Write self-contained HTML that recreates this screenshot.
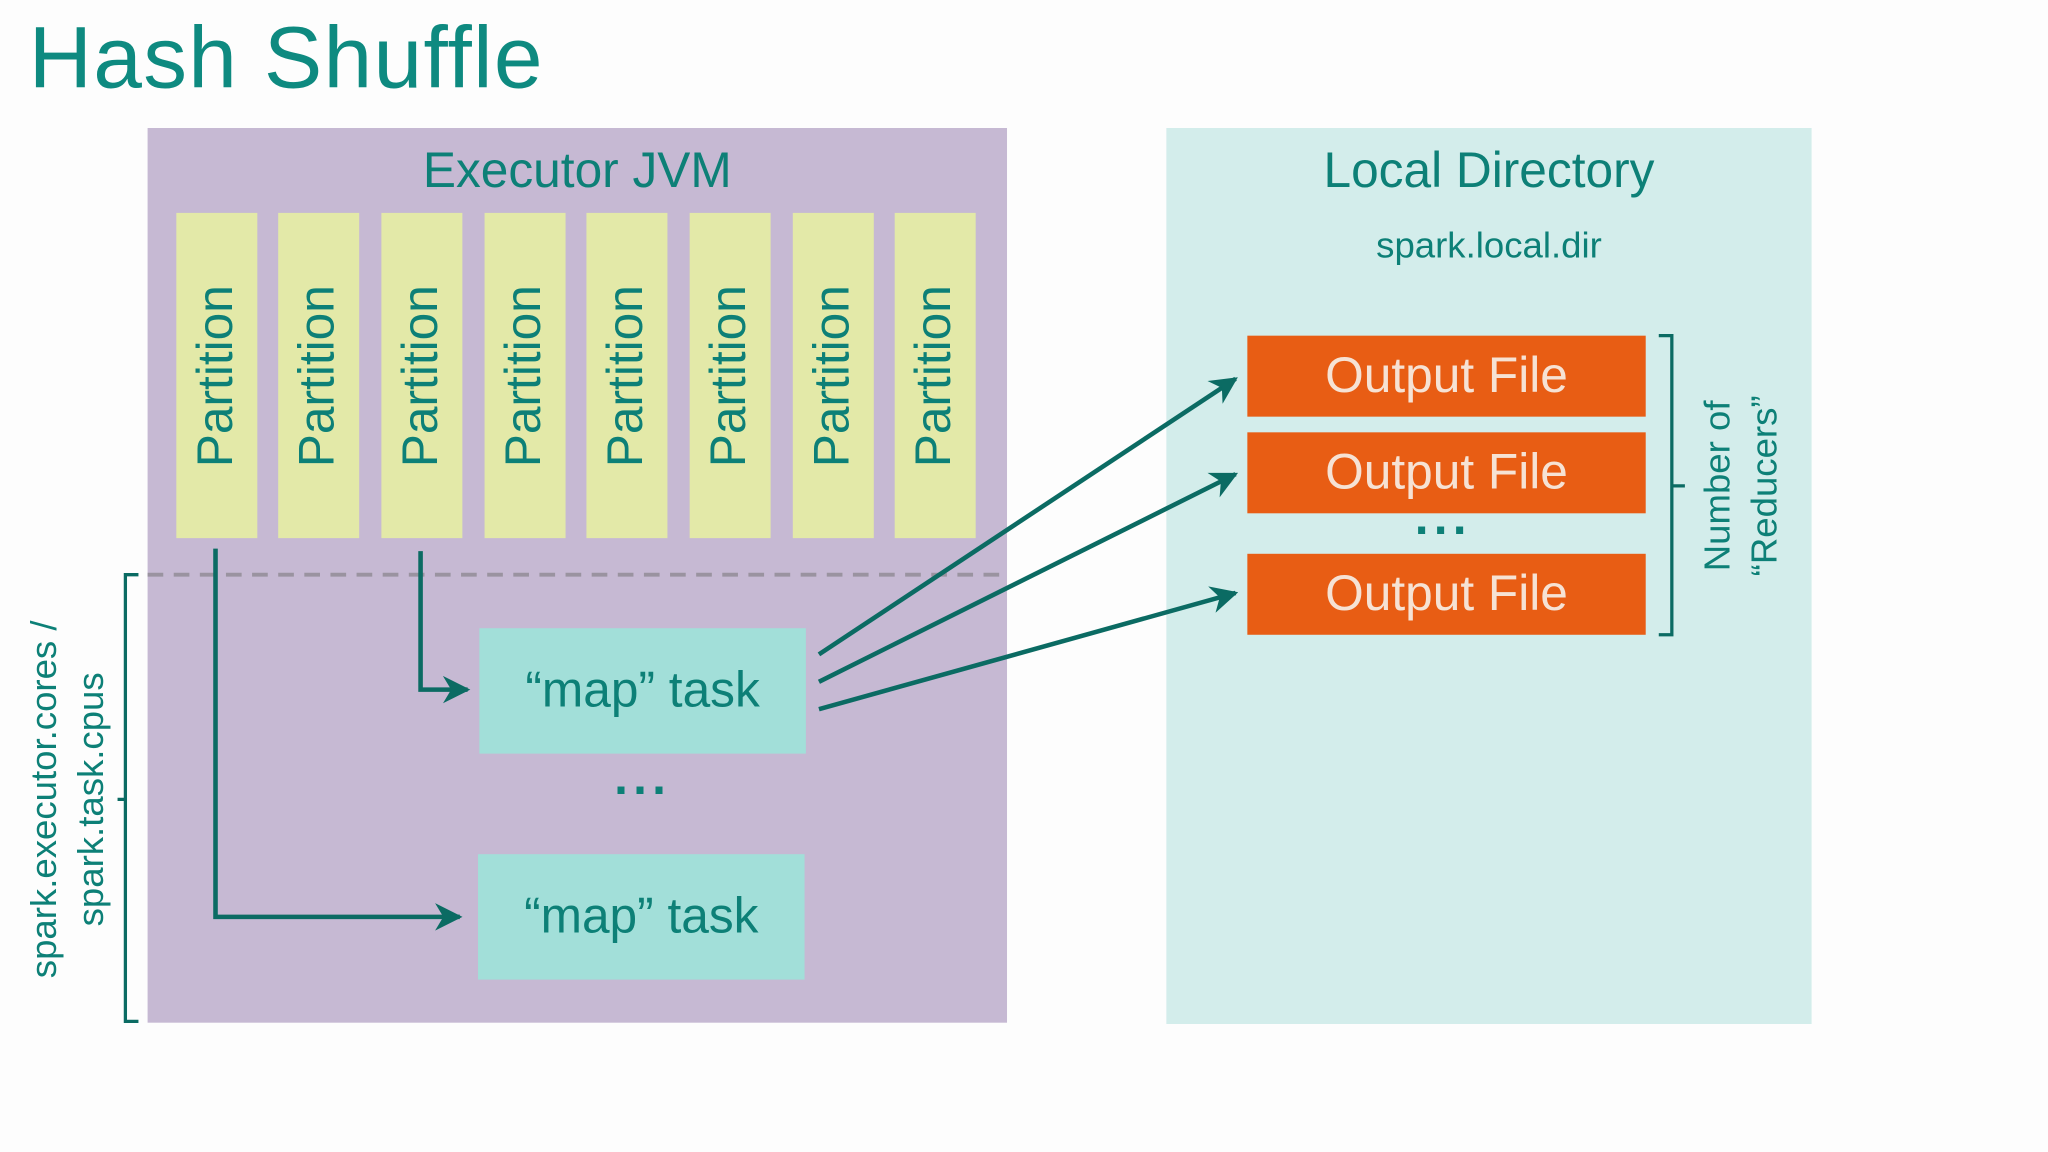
<!DOCTYPE html>
<html><head><meta charset="utf-8"><style>
html,body{margin:0;padding:0;background:#fdfdfd;width:2048px;height:1152px;overflow:hidden}
#w{position:absolute;left:0;top:0;width:1568px;height:882px;transform:scale(1.30612);transform-origin:0 0;font-family:"Liberation Sans",sans-serif;color:#0d8077}
.a{position:absolute}
.p{position:absolute;top:163px;width:62px;height:249px;background:#e3e9a8}
.p span{position:absolute;left:50%;top:50%;transform:translate(-50%,-50%) rotate(-90deg);font-size:38px;white-space:nowrap;color:#0d8077}
.m{position:absolute;width:250px;height:96px;background:#a2dfd9;display:flex;align-items:center;justify-content:center;font-size:38px;color:#0d8077}
.o{position:absolute;left:955px;width:305px;height:62px;background:#e85d14;display:flex;align-items:center;justify-content:center;font-size:38px;color:#f6e2d4}
</style></head><body><div id="w">
<div class="a" style="left:22px;top:6px;font-size:67px;letter-spacing:1px;color:#0e8a80">Hash Shuffle</div>
<div class="a" style="left:113px;top:98px;width:658px;height:685px;background:#c6b9d3"></div>
<div class="a" style="left:893px;top:98px;width:494px;height:686px;background:#d3edeb"></div>
<div class="a" style="left:113px;top:110px;width:658px;text-align:center;font-size:38px">Executor JVM</div>
<div class="a" style="left:893px;top:110px;width:494px;text-align:center;font-size:38px">Local Directory</div>
<div class="a" style="left:893px;top:172px;width:494px;text-align:center;font-size:28px">spark.local.dir</div>
<div class="p" style="left:135px"><span>Partition</span></div>
<div class="p" style="left:213px"><span>Partition</span></div>
<div class="p" style="left:292px"><span>Partition</span></div>
<div class="p" style="left:371px"><span>Partition</span></div>
<div class="p" style="left:449px"><span>Partition</span></div>
<div class="p" style="left:528px"><span>Partition</span></div>
<div class="p" style="left:607px"><span>Partition</span></div>
<div class="p" style="left:685px"><span>Partition</span></div>
<div class="m" style="left:367px;top:481px">“map” task</div>
<div class="m" style="left:366px;top:654px">“map” task</div>
<div class="a" style="left:440px;top:575px;width:104px;text-align:center;font-size:38px;font-weight:bold;letter-spacing:4px">...</div>
<div class="o" style="top:257px">Output File</div>
<div class="o" style="top:331px">Output File</div>
<div class="o" style="top:424px">Output File</div>
<div class="a" style="left:1060px;top:376px;width:90px;text-align:center;font-size:38px;font-weight:bold;letter-spacing:4px">...</div>
<div class="a" style="left:52px;top:612px;transform:translate(-50%,-50%) rotate(-90deg);font-size:28px;line-height:36px;text-align:center;white-space:nowrap">spark.executor.cores /<br>spark.task.cpus</div>
<div class="a" style="left:1333px;top:372px;transform:translate(-50%,-50%) rotate(-90deg);font-size:28px;line-height:36px;text-align:center;white-space:nowrap">Number of<br>“Reducers”</div>
<svg class="a" style="left:0;top:0" width="1568" height="882">
<defs>
<marker id="ah" viewBox="0 0 10 10" refX="9" refY="5" markerWidth="6" markerHeight="6" orient="auto"><path d="M0,0 L10,5 L0,10 L3,5z" fill="#0b6b63"/></marker></defs>
<line x1="113" y1="440" x2="771" y2="440" stroke="#9a93a0" stroke-width="3" stroke-dasharray="12,8"/>
<g stroke="#0b6b63" stroke-width="3.5" fill="none">
<path d="M165,420 V702 H352" marker-end="url(#ah)"/>
<path d="M322,422 V528 H358" marker-end="url(#ah)"/>
<path d="M627,501 L946,290" marker-end="url(#ah)"/>
<path d="M627,522 L946,363" marker-end="url(#ah)"/>
<path d="M627,543 L946,454" marker-end="url(#ah)"/>
</g>
<g stroke="#0b6b63" stroke-width="2.5" fill="none">
<path d="M106,440 H96 V782 H106 M96,612 H90"/>
<path d="M1270,257 H1280 V486 H1270 M1280,372 H1290"/>
</g>
</svg>
</div></body></html>
